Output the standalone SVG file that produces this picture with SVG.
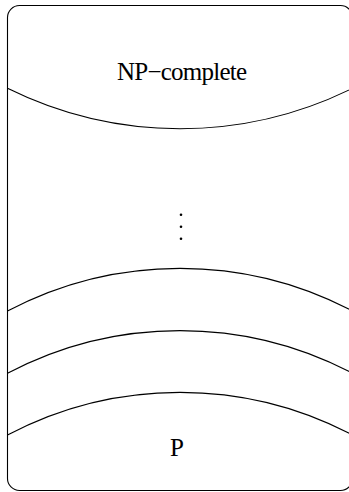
<svg xmlns="http://www.w3.org/2000/svg" width="349" height="492" viewBox="0 0 349 492">
  <style>
    .line { fill: none; stroke: #000; stroke-width: 1.1; }
    .label { font-family: "Liberation Serif", "Times New Roman", serif; font-size: 25px; fill: #000; text-anchor: middle; }
  </style>
  <rect width="349" height="492" fill="#fff"/>
  <!-- outer frame -->
  <rect id="frame" class="line" x="7.5" y="5.5" width="345" height="485" rx="12" ry="12"/>
  <!-- class boundaries -->
  <g id="boundaries">
    <path class="line" d="M 7.5 88.3 A 388.5 388.5 0 0 0 352.5 88.3"/>
    <path class="line" d="M 7.5 311 A 370 370 0 0 1 352.5 311"/>
    <path class="line" d="M 7.5 373.3 A 370 370 0 0 1 352.5 373.3"/>
    <path class="line" d="M 7.5 435 A 370 370 0 0 1 352.5 435"/>
  </g>
  <g id="np-complete">
    <text class="label" x="182" y="80" textLength="130" lengthAdjust="spacing">NP−complete</text>
  </g>
  <g id="ellipsis" fill="#000">
    <circle cx="181" cy="214.7" r="1.3"/>
    <circle cx="181" cy="226.7" r="1.3"/>
    <circle cx="181" cy="238.7" r="1.3"/>
  </g>
  <g id="p">
    <text class="label" x="177" y="456">P</text>
  </g>
</svg>
